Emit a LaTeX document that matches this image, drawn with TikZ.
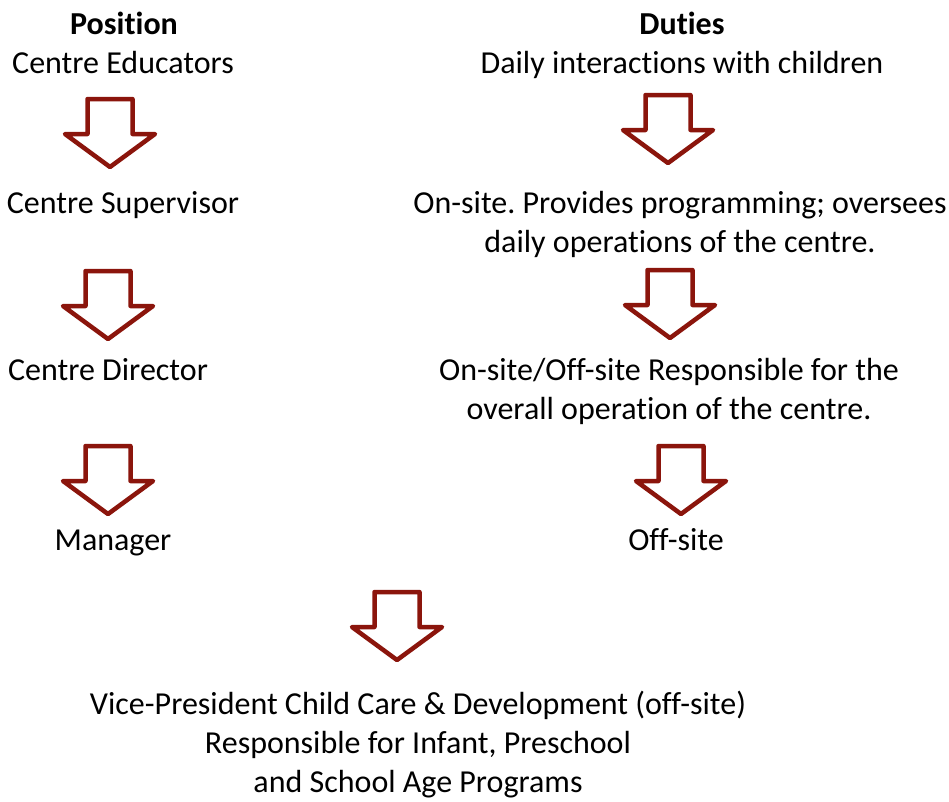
\documentclass[tikz,border=0pt]{standalone}
\usepackage{fontspec}
\setmainfont{Carlito}[Ligatures=NoCommon]
\frenchspacing
\definecolor{rougefleche}{RGB}{139,21,12}
\begin{document}
\begin{tikzpicture}[x=1pt,y=-1pt]
\tikzset{texte/.style={inner sep=0pt, anchor=base, align=center, font=\fontsize{32}{39}\selectfont},
fleche/.pic={\draw[rougefleche, line width=4.5pt, line join=round, fill=white]
  (-22.5,0) -- (-22.5,35) -- (-45,35) -- (0,68) -- (45,35) -- (22.5,35) -- (22.5,0) -- cycle;}}
\useasboundingbox (0,0) rectangle (949,801);
% colonne de gauche
\node[texte] (P0) at (124,34) {\textbf{Position}};
\node[texte] (P1) at (123,73) {Centre Educators};
\node[texte] (P2) at (123,213) {Centre Supervisor};
\node[texte] (P3) at (108,380) {Centre Director};
\node[texte] (P4) at (113,550) {Manager};
% colonne de droite (base = derniere ligne)
\node[texte] (D0) at (682,34) {\textbf{Duties}};
\node[texte] (D1) at (682,73) {Daily interactions with children};
\node[texte] (D2) at (680,252) {On-site. Provides programming; oversees\\daily operations of the centre.};
\node[texte] (D3) at (669,419) {On-site/Off-site Responsible for the\\overall operation of the centre.};
\node[texte] (D4) at (676,550) {Off-site};
% bas
\node[texte] (VP) at (418,792) {Vice-President Child Care \& Development (off-site)\\Responsible for Infant, Preschool\\and School Age Programs};
% fleches
\pic at (110,99) {fleche};
\pic at (108,271) {fleche};
\pic at (108,446) {fleche};
\pic at (668,95) {fleche};
\pic at (670,270) {fleche};
\pic at (681,446) {fleche};
\pic at (397,592) {fleche};
\end{tikzpicture}
\end{document}
